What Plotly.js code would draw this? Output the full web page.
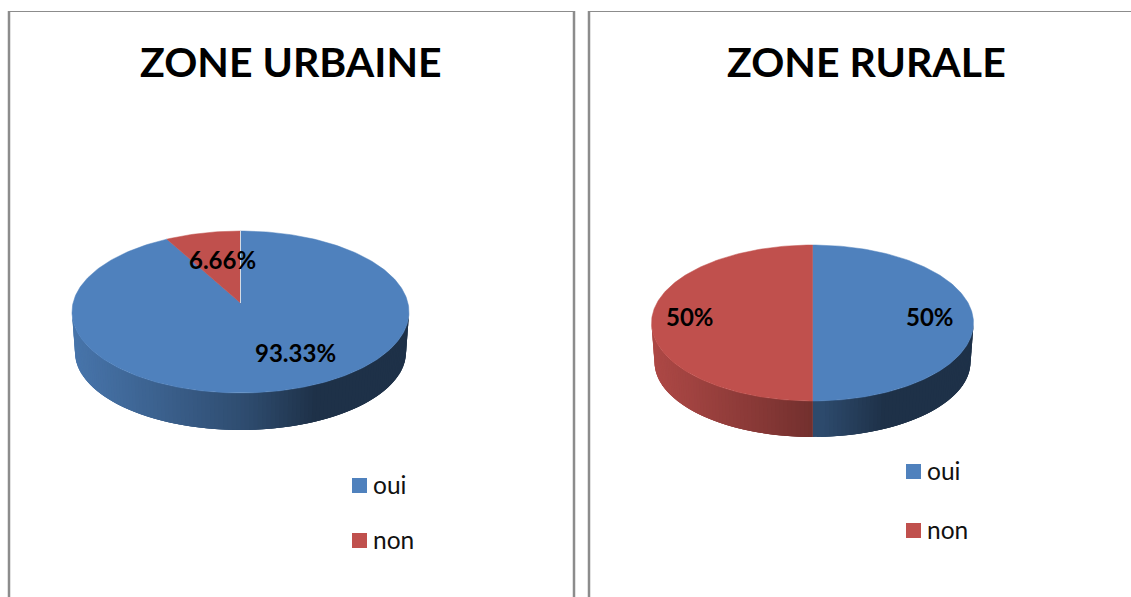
<!DOCTYPE html>
<html>
<head>
<meta charset="utf-8">
<script src="https://cdn.plot.ly/plotly-3.0.1.min.js"></script>
<style>html,body{margin:0;padding:0;background:#fff;overflow:hidden}#chart{width:1131px;height:597px}</style>
</head>
<body>
<div id="chart"></div>
<script>
// --- data ---
const categories = ["oui", "non"];
const urbainValues = [93.33, 6.66];
const ruralValues = [50, 50];
const urbainLabels = ["93.33%", "6.66%"];
const ruralLabels = ["50%", "50%"];
const titles = ["ZONE URBAINE", "ZONE RURALE"];
const colors = ["#4F81BD", "#C0504D"];

// --- geometry of each drawn pie (pixel-scale axes) ---
const urbainGeo = {cx:240.5, cy:312, rx:168.5, ry:81, ax:240.5, ay:303, bcy:352, brx:165.5, bry:78,
  labels:[[295,352],[222.5,259]], legend:{x:359.5, ys:[485.5,540.5], tx:370.5, ty:[484,539]}};
const ruralGeo = {cx:812.5, cy:323, rx:161, ry:78, ax:812.5, ay:316, bcy:362, brx:158, bry:75,
  labels:[[930,316],[690,316]], legend:{x:913.5, ys:[471.5,530.5], tx:924.5, ty:[470,529]}};

const traces = [], annotations = [];
const TAU = Math.PI*2;

function shade(hex, f){
  const n = parseInt(hex.slice(1),16);
  return "rgb("+[(n>>16)&255,(n>>8)&255,n&255].map(c=>Math.round(c*f)).join(",")+")";
}
function sideFactor(p){ // p in [-1,1] = horizontal position on the rim
  if(p<0) return 0.58+(-p)*0.32;
  if(p<0.4) return 0.58-(p/0.4)*0.20;
  return 0.38;
}
function persp(t){ return t+0.045*Math.sin(2*t); } // 3D tilt bends angles on the rim
function poly(xs,ys,color,lw){
  traces.push({type:"scatter",mode:"lines",x:xs,y:ys,fill:"toself",fillcolor:color,
    line:{color:color,width:lw},hoverinfo:"skip",showlegend:false});
}
function drawPie(values,labels,g){
  const total = values.reduce((a,b)=>a+b,0);
  const spans=[]; let c=0;
  values.forEach(v=>{spans.push([c/total*TAU,(c+v)/total*TAU]); c+=v;});
  // side wall: each band overlaps the previous one (within its slice) so no seams show
  const N=120;
  for(let i=0;i<N;i++){
    const step=TAU/2/N;
    const t1=TAU/4+(i+1)*step, tm=t1-step/2;
    const idx=spans.findIndex(s=>tm>=s[0]&&tm<s[1]);
    const start=idx<0?TAU/4:spans[idx][0];
    const t0=Math.max(TAU/4,start,t1-3*step);
    const col=shade(colors[idx<0?0:idx],sideFactor(Math.sin(tm)));
    poly([g.cx+g.rx*Math.sin(t0),g.cx+g.rx*Math.sin(t1),g.cx+g.brx*Math.sin(t1),g.cx+g.brx*Math.sin(t0)],
         [g.cy-g.ry*Math.cos(t0),g.cy-g.ry*Math.cos(t1),g.bcy-g.bry*Math.cos(t1),g.bcy-g.bry*Math.cos(t0)],col,0);
  }
  // top surface
  spans.forEach((s,k)=>{
    const xs=[g.ax], ys=[g.ay], M=Math.max(2,Math.ceil((s[1]-s[0])/TAU*360));
    for(let j=0;j<=M;j++){
      const t=persp(s[0]+(s[1]-s[0])*j/M);
      xs.push(g.cx+g.rx*Math.sin(t)); ys.push(g.cy-g.ry*Math.cos(t));
    }
    xs.push(g.ax); ys.push(g.ay);
    poly(xs,ys,colors[k],0.5);
  });
  labels.forEach((t,k)=>annotations.push({x:g.labels[k][0],y:g.labels[k][1],text:"<b>"+t+"</b>",showarrow:false,
    xanchor:"center",yanchor:"middle",font:{family:"Lato",size:24,color:"#000"}}));
  // legend
  categories.forEach((name,k)=>{
    traces.push({type:"scatter",mode:"markers",x:[g.legend.x],y:[g.legend.ys[k]],
      marker:{symbol:"square",size:15,color:colors[k],line:{width:0}},hoverinfo:"skip",showlegend:false});
    annotations.push({x:g.legend.tx,y:g.legend.ty[k],text:name,showarrow:false,xanchor:"left",yanchor:"middle",
      font:{family:"Lato",size:24.5,color:"#111"}});
  });
}
drawPie(urbainValues,urbainLabels,urbainGeo);
drawPie(ruralValues,ruralLabels,ruralGeo);

// light seam on the urban pie
traces.push({type:"scatter",mode:"lines",x:[urbainGeo.ax,urbainGeo.ax],y:[urbainGeo.ay,urbainGeo.cy-urbainGeo.ry],
  line:{color:"#d5dbe4",width:1},hoverinfo:"skip",showlegend:false});

[290.5,866].forEach((x,i)=>annotations.push({x:x,y:61,text:"<b>"+titles[i]+"</b>",showarrow:false,
  xanchor:"center",yanchor:"middle",font:{family:"Lato",size:41,color:"#000"}}));

const frame="#8c8c8c";
const shapes=[
 {type:"line",x0:9,x1:9,y0:11,y1:597,line:{color:frame,width:2.5}},
 {type:"line",x0:574,x1:574,y0:11,y1:597,line:{color:frame,width:2.5}},
 {type:"line",x0:589,x1:589,y0:11,y1:597,line:{color:frame,width:2.5}},
 {type:"line",x0:9,x1:574,y0:11.5,y1:11.5,line:{color:frame,width:1.2}},
 {type:"line",x0:589,x1:1131,y0:11.5,y1:11.5,line:{color:frame,width:1.2}}
];

Plotly.newPlot("chart",traces,{
  width:1131,height:597,margin:{l:0,r:0,t:0,b:0},
  paper_bgcolor:"#fff",plot_bgcolor:"#fff",showlegend:false,
  xaxis:{range:[0,1131],visible:false,fixedrange:true},
  yaxis:{range:[597,0],visible:false,fixedrange:true},
  shapes:shapes,annotations:annotations
},{staticPlot:true,displayModeBar:false});
</script>
</body>
</html>
